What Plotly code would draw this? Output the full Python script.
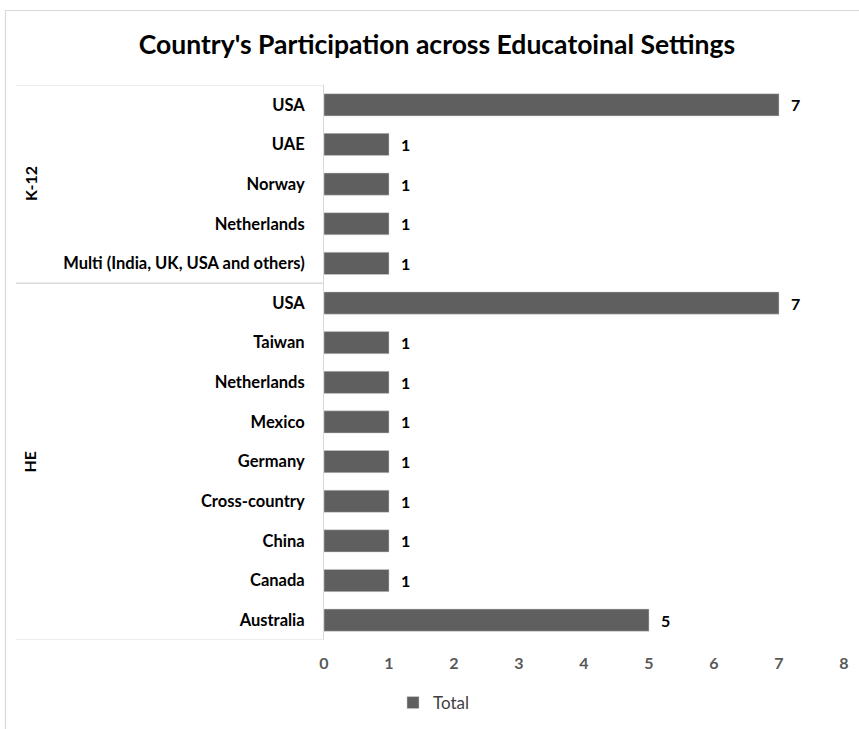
import plotly.graph_objects as go

groups = ["K-12", "K-12", "K-12", "K-12", "K-12",
          "HE", "HE", "HE", "HE", "HE", "HE", "HE", "HE", "HE"]
countries = ["USA", "UAE", "Norway", "Netherlands", "Multi (India, UK, USA and others)",
             "USA", "Taiwan", "Netherlands", "Mexico", "Germany", "Cross-country",
             "China", "Canada", "Australia"]
totals = [7, 1, 1, 1, 1, 7, 1, 1, 1, 1, 1, 1, 1, 5]
x_ticks = [0, 1, 2, 3, 4, 5, 6, 7, 8]

W, H = 859, 729
ML, MR, MT, MB = 324, 15, 85, 89
FONT = "Lato"
GRID = "#d9d9d9"
BAR = "#5f5f5f"

def px_x(p):
    return (p - ML) / (W - ML - MR)

def px_y(p):
    return 1 - (p - MT) / (H - MT - MB)

idx = list(range(len(countries)))

fig = go.Figure()
fig.add_trace(go.Bar(
    x=totals, y=idx, orientation="h", name="Total",
    marker=dict(color=BAR, line=dict(color="#d0d0d0", width=0.5)),
    width=0.56, showlegend=True,
))

for i, v in zip(idx, totals):
    fig.add_annotation(x=v, y=i, text=f"<b>{v}</b>", showarrow=False,
                       xanchor="left", xshift=10,
                       font=dict(family=FONT, size=16, color="#000000"))

# group labels and separators
shapes = []
group_names = []
for g in groups:
    if g not in group_names:
        group_names.append(g)
for g in group_names:
    members = [i for i in idx if groups[i] == g]
    first, last = members[0], members[-1]
    fig.add_annotation(x=px_x(30), xref="paper", xanchor="center",
                       y=(first + last) / 2, yref="y", yanchor="middle",
                       text=f"<b>{g}</b>", showarrow=False, textangle=-90,
                       font=dict(family=FONT, size=16, color="#000000"))
    for b in (first - 0.5, last + 0.5):
        shapes.append(dict(type="line", xref="paper", yref="y",
                           x0=px_x(16), x1=0, y0=b, y1=b,
                           line=dict(color=GRID, width=1)))

# outer chart border
shapes.append(dict(type="rect", xref="paper", yref="paper",
                   x0=px_x(5.5), x1=px_x(880), y0=px_y(10.5), y1=px_y(760),
                   line=dict(color=GRID, width=1.2), fillcolor="rgba(0,0,0,0)", layer="below"))

fig.update_layout(
    width=W, height=H,
    margin=dict(l=ML, r=MR, t=MT, b=MB, autoexpand=False),
    paper_bgcolor="white", plot_bgcolor="white",
    title=dict(text="<b>Country's Participation across Educatoinal Settings</b>",
               x=437 / W, xref="container", xanchor="center", y=1 - 45 / H, yanchor="middle",
               font=dict(family=FONT, size=26.5, color="#000000")),
    xaxis=dict(range=[0, 8], tickvals=x_ticks, ticktext=[f"<b>{t}</b>" for t in x_ticks],
               showgrid=False, zeroline=False, showline=False, ticks="",
               tickfont=dict(family=FONT, size=16, color="#595959"), ticklabelstandoff=12,
               automargin=False),
    yaxis=dict(range=[len(countries) - 0.5, -0.5], tickvals=idx,
               ticktext=[f"<b>{c}</b>" for c in countries],
               showgrid=False, zeroline=False, showline=True, linecolor=GRID, linewidth=1,
               ticks="", tickfont=dict(family=FONT, size=16.5, color="#000000"),
               ticklabelstandoff=15, automargin=False),
    legend=dict(orientation="h", x=px_x(434), xanchor="center", y=px_y(703), yanchor="middle",
                font=dict(family=FONT, size=17, color="#404040"), itemwidth=30),
    shapes=shapes,
    showlegend=True,
)

fig.write_html("out.html")
